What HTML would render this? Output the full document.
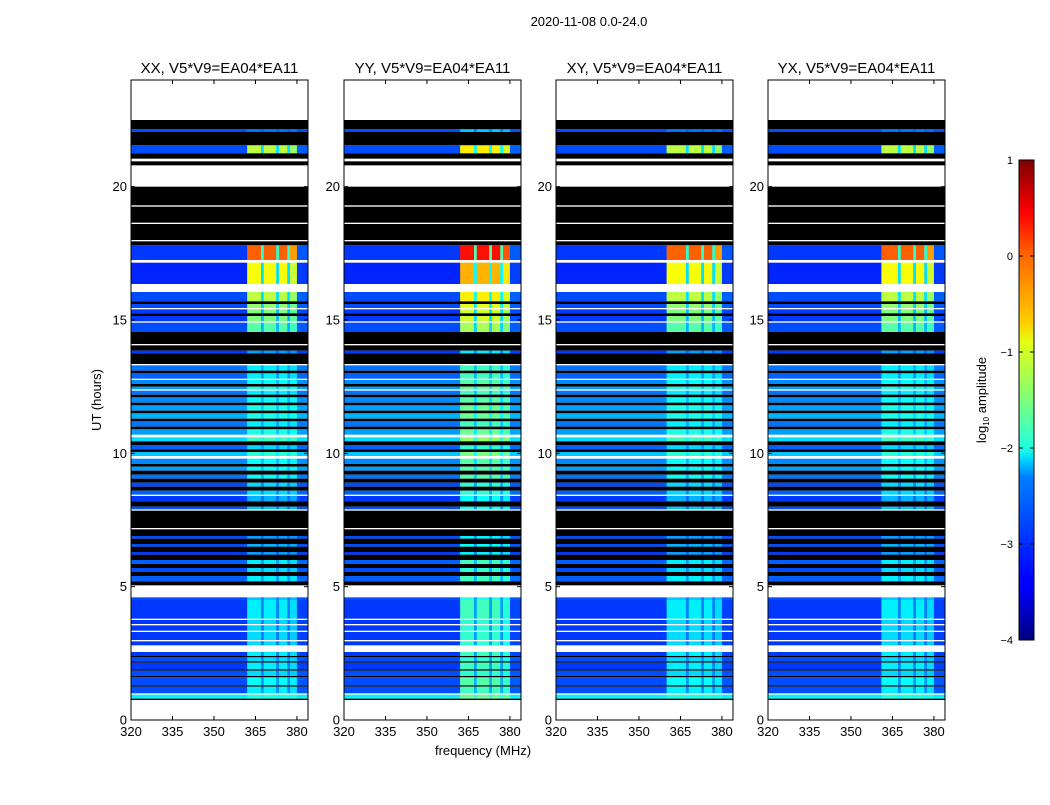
<!DOCTYPE html>
<html><head><meta charset="utf-8"><style>
body{margin:0;background:#fff;}
svg text{font-family:"Liberation Sans",sans-serif;fill:#000;}
</style></head><body>
<svg id="fig" width="1050" height="800" xmlns="http://www.w3.org/2000/svg">
<defs>
<linearGradient id="jet" x1="0" y1="1" x2="0" y2="0">
<stop offset="0" stop-color="#00007f"/><stop offset="0.11" stop-color="#0000ff"/><stop offset="0.125" stop-color="#0000ff"/>
<stop offset="0.34" stop-color="#0080ff"/><stop offset="0.375" stop-color="#00d4ff"/><stop offset="0.4" stop-color="#20ffdf"/>
<stop offset="0.5" stop-color="#7dff7a"/><stop offset="0.62" stop-color="#e4ff13"/><stop offset="0.66" stop-color="#ffd000"/>
<stop offset="0.8" stop-color="#ff6800"/><stop offset="0.89" stop-color="#ff0000"/><stop offset="1" stop-color="#7f0000"/>
</linearGradient>
</defs>
<text x="589" y="26" font-size="13" text-anchor="middle">2020-11-08 0.0-24.0</text>
<g id="panels"></g>
<text transform="translate(101,400) rotate(-90)" font-size="13" text-anchor="middle">UT (hours)</text>
<text x="483" y="755" font-size="13" text-anchor="middle">frequency (MHz)</text>
<g>
<rect x="1019" y="160" width="15" height="480" fill="url(#jet)" stroke="#000" stroke-width="1"/>
<g id="cbticks"></g>
<text transform="translate(986,400) rotate(-90)" font-size="13" text-anchor="middle">log<tspan font-size="8" dy="3">10</tspan><tspan dy="-3"> amplitude</tspan></text>
</g>
</svg>
<script>
// ---- data ----
const panelTitles = ["XX, V5*V9=EA04*EA11","YY, V5*V9=EA04*EA11","XY, V5*V9=EA04*EA11","YX, V5*V9=EA04*EA11"];
const panelHotOffset = [0, 0.4, 0, 0];
const panelHotStart = [362, 362, 360, 361];
// time bands: top hour (band runs down to next top, last to 0); background log amp ('w' flagged white, 'k' black); hot-region log amp
const bandTop = [
 24,22.5,22.15,22.05,21.55,21.25,21.05,20.95,20.8,20.0,
 19.3,19.25,18.65,18.6,18.0,17.95,17.8,17.25,17.15,16.35,
 16.05,15.7,15.6,15.45,15.4,15.25,15.15,14.95,14.9,14.55,
 14.1,14.05,13.85,13.75,13.35,13.3,13.1,13.0,12.8,12.75,
 12.6,12.5,12.4,12.35,12.2,12.1,11.9,11.8,11.6,11.5,
 11.3,11.2,11.0,10.9,10.7,10.6,10.45,10.3,10.15,10.05,
 9.9,9.8,9.6,9.5,9.35,9.2,9.05,8.9,8.75,8.6,
 8.45,8.4,8.2,8.0,7.9,7.85,7.2,7.15,6.9,6.8,
 6.6,6.5,6.3,6.2,6.0,5.85,5.7,5.55,5.4,5.2,
 5.05,4.6,4.5,3.8,3.75,3.6,3.55,3.35,3.3,3.0,
 2.95,2.8,2.55,2.4,2.35,2.2,2.15,1.9,1.85,1.65,
 1.6,1.3,1.25,1.0,0.95,0.8,0.75];
const bandBg = [
 'w','k',-3.0,'k',-3.0,'k','w','k','w','k',
 'w','k','w','k','w','k',-3.1,'w',-3.2,'w',
 -3.0,'k',-3.0,'w',-3.1,'k',-3.1,'w',-3.0,'k',
 'w','k',-3.1,'k','w',-2.8,'k',-2.9,'w',-2.7,
 'k',-2.6,'w',-2.8,'k',-2.7,'k',-2.6,'k',-2.5,
 'k',-2.8,'k',-2.6,'w',-2.3,'k',-2.9,'k',-2.4,
 'w',-2.7,'k',-2.6,'k',-2.8,'k',-3.0,'k',-2.9,
 'w',-3.1,'k',-3.0,'w','k','w','k',-3.0,'k',
 -3.0,'k',-3.1,'k',-2.9,'k',-3.0,'k',-2.9,'k',
 'w',-3.0,-3.1,'w',-3.1,'w',-3.1,'w',-3.1,'w',
 -3.1,'w',-3.1,'k',-3.0,'k',-3.1,'k',-3.0,'k',
 -3.0,'k',-3.0,'w',-2.2,'k','w'];
const bandHot = [
 0,0,-2.8,0,-1.2,0,0,0,0,0,
 0,0,0,0,0,0,-0.1,0,-0.9,0,
 -1.2,0,-1.4,0,-1.5,0,-1.5,0,-1.7,0,
 0,0,-2.6,0,0,-2.2,0,-2.2,0,-2.1,
 0,-2.0,0,-2.2,0,-2.1,0,-2.0,0,-2.0,
 0,-2.2,0,-2.0,0,-1.8,0,-2.3,0,-1.9,
 0,-2.1,0,-2.1,0,-2.1,0,-2.3,0,-2.3,
 0,-2.5,0,-2.4,0,0,0,0,-2.6,0,
 -2.5,0,-2.6,0,-2.2,0,-2.3,0,-2.2,0,
 0,-2.4,-2.2,0,-2.3,0,-2.3,0,-2.3,0,
 -2.3,0,-2.2,0,-2.3,0,-2.2,0,-2.3,0,
 -2.1,0,-2.2,0,-2.0,0,0];
const freqEdges = [320,362,367,368,372.5,373.5,376.5,377.5,380,384];
const freqBoost = [0,1,0.4,1,0.4,1,0.4,0.9,0.05];
const yTicks = [0,5,10,15,20];
const xTicks = [320,335,350,365,380];
const cbTicks = [1,0,-1,-2,-3,-4];
// ---- layout ----
const NS="http://www.w3.org/2000/svg";
const panelLeft=[131,344,556,768], PW=177, PT=80, PB=720;
const xs=(L,f)=>L+(f-320)*PW/64;
const ys=h=>PB-h*(PB-PT)/24;
function jet(v){let t=Math.max(0,Math.min(1,(v+4)/5));
 const c=x=>Math.round(255*Math.max(0,Math.min(1,1.5-Math.abs(4*t-x))));
 return `rgb(${c(3)},${c(2)},${c(1)})`;}
function mk(tag,attrs,parent){const e=document.createElementNS(NS,tag);for(const k in attrs)e.setAttribute(k,attrs[k]);parent.appendChild(e);return e;}
const root=document.getElementById('panels');
panelLeft.forEach((L,p)=>{
 const g=mk('g',{},root);
 
 
 const img=mk('g',{},g);
 for(let i=0;i<bandTop.length;i++){
  const bg=bandBg[i]; const y0=ys(bandTop[i]), y1=ys(i+1<bandTop.length?bandTop[i+1]:0);
  if(bg==='w')continue;
  if(bg==='k'){const r=mk('rect',{x:L,y:y0,width:PW,height:y1-y0,fill:'#000'},img);
   
   continue;}
  for(let j=0;j<freqBoost.length;j++){
   let f0=freqEdges[j],f1=freqEdges[j+1];
   if(j===0)f1=panelHotStart[p]; if(j===1)f0=panelHotStart[p];
   const hot=bandHot[i]+panelHotOffset[p];
   const v=bg+(hot-bg)*freqBoost[j];
   const r=mk('rect',{x:xs(L,f0),y:y0,width:xs(L,f1)-xs(L,f0)+0.3,height:y1-y0,fill:jet(v)},img);
   
   
  }
 }
 const fr=mk('rect',{x:L,y:PT,width:PW,height:PB-PT,fill:'none',stroke:'#000','stroke-width':1},g);
 
 
 const t=mk('text',{x:L+PW/2,y:73,'font-size':15,'text-anchor':'middle'},g);t.textContent=panelTitles[p];
 
 
 yTicks.forEach(h=>{const y=ys(h);
  mk('line',{x1:L,x2:L+4,y1:y,y2:y,stroke:'#000'},g);mk('line',{x1:L+PW-4,x2:L+PW,y1:y,y2:y,stroke:'#000'},g);
  const tt=mk('text',{x:L-4,y:y+4.5,'font-size':13,'text-anchor':'end'},g);tt.textContent=h;
  
  });
 xTicks.forEach(f=>{const x=xs(L,f);
  mk('line',{x1:x,x2:x,y1:PB,y2:PB-4,stroke:'#000'},g);mk('line',{x1:x,x2:x,y1:PT,y2:PT+4,stroke:'#000'},g);
  const tt=mk('text',{x:x,y:PB+16,'font-size':13,'text-anchor':'middle'},g);tt.textContent=f;
  
  });
});
const cb=document.getElementById('cbticks');
cbTicks.forEach(v=>{const y=160+(1-v)*96;
 mk('line',{x1:1019,x2:1023,y1:y,y2:y,stroke:'#000'},cb);mk('line',{x1:1030,x2:1034,y1:y,y2:y,stroke:'#000'},cb);
 const t=mk('text',{x:1013,y:y+4,'font-size':11,'text-anchor':'end'},cb);t.textContent=v<0?'\u2212'+(-v):v;
 
 });
</script>
</body></html>
